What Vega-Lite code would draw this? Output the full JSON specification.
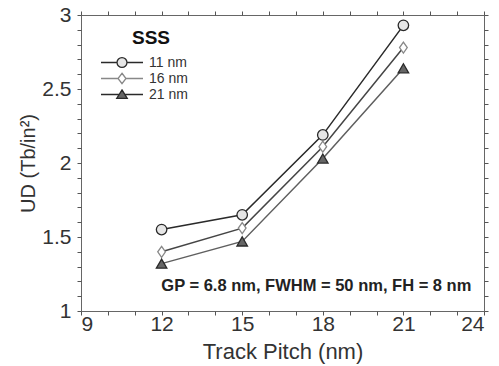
{
  "$schema": "https://vega.github.io/schema/vega-lite/v6.json",
  "width": 403,
  "height": 296,
  "autosize": {"type": "none"},
  "padding": {"left": 81, "top": 15, "right": 15, "bottom": 55},
  "background": "white",
  "config": {"view": {"stroke": "#666", "strokeWidth": 1}, "font": "Liberation Sans", "axis": {"grid": false, "tickColor": "#555", "domainColor": "#666", "tickWidth": 1}},
  "resolve": {"axis": {"x": "independent", "y": "independent"}},
  "datasets": {
    "ud": [
      {"series": "11 nm", "tp": 12, "ud": 1.55},
      {"series": "11 nm", "tp": 15, "ud": 1.65},
      {"series": "11 nm", "tp": 18, "ud": 2.19},
      {"series": "11 nm", "tp": 21, "ud": 2.93},
      {"series": "16 nm", "tp": 12, "ud": 1.40},
      {"series": "16 nm", "tp": 15, "ud": 1.56},
      {"series": "16 nm", "tp": 18, "ud": 2.11},
      {"series": "16 nm", "tp": 21, "ud": 2.78},
      {"series": "21 nm", "tp": 12, "ud": 1.32},
      {"series": "21 nm", "tp": 15, "ud": 1.47},
      {"series": "21 nm", "tp": 18, "ud": 2.03},
      {"series": "21 nm", "tp": 21, "ud": 2.64}
    ]
  },
  "data": {"name": "ud"},
  "layer": [
    {
      "mark": {"type": "line", "strokeWidth": 1.5, "color": "#2a2a2a"},
      "encoding": {
        "x": {
          "field": "tp", "type": "quantitative",
          "scale": {"domain": [9, 24], "nice": false, "zero": false},
          "axis": {
            "orient": "bottom",
            "title": "Track Pitch (nm)",
            "values": [9,10,11,12,13,14,15,16,17,18,19,20,21,22,23,24],
            "format": "d",
            "labelExpr": "datum.value % 3 === 0 ? datum.label : ''",
            "domain": false, "ticks": true, "tickSize": 4,
            "labelFontSize": 21, "labelColor": "#333", "labelPadding": -2, "labelFont": "Liberation Sans",
            "titleFontSize": 22, "titleFontWeight": "normal", "titleColor": "#333", "titlePadding": 7, "titleFont": "Liberation Sans"
          }
        },
        "y": {
          "field": "ud", "type": "quantitative",
          "scale": {"domain": [1, 3], "nice": false, "zero": false},
          "axis": {
            "orient": "left",
            "title": "UD (Tb/in²)",
            "values": [1,1.1,1.2,1.3,1.4,1.5,1.6,1.7,1.8,1.9,2,2.1,2.2,2.3,2.4,2.5,2.6,2.7,2.8,2.9,3],
            "format": ".1~f",
            "labelExpr": "abs(datum.value*2 - round(datum.value*2)) < 0.01 ? datum.label : ''",
            "domain": false, "ticks": true, "tickSize": 4,
            "labelFontSize": 21, "labelColor": "#333", "labelPadding": 6, "labelFont": "Liberation Sans",
            "titleFontSize": 20, "titleFontWeight": "normal", "titleColor": "#333", "titlePadding": 3, "titleFont": "Liberation Sans"
          }
        },
        "detail": {"field": "series"},
        "strokeOpacity": {"field": "series", "type": "nominal", "scale": {"domain": ["11 nm", "16 nm", "21 nm"], "range": [1, 0.75, 1]}, "legend": null}
      }
    },
    {
      "transform": [{"filter": "datum.series === '11 nm'"}],
      "mark": {"type": "point", "shape": "circle", "filled": true, "fill": "#e6e6e6", "stroke": "#2a2a2a", "strokeWidth": 1.3, "size": 110, "opacity": 1},
      "encoding": {
        "x": {"field": "tp", "type": "quantitative", "axis": {
          "orient": "top", "title": null, "labels": false, "domain": false, "ticks": true, "tickSize": 4,
          "values": [9,10,11,12,13,14,15,16,17,18,19,20,21,22,23,24]
        }},
        "y": {"field": "ud", "type": "quantitative", "axis": {
          "orient": "right", "title": null, "labels": false, "domain": false, "ticks": true, "tickSize": 4,
          "values": [1,1.1,1.2,1.3,1.4,1.5,1.6,1.7,1.8,1.9,2,2.1,2.2,2.3,2.4,2.5,2.6,2.7,2.8,2.9,3]
        }}
      }
    },
    {
      "transform": [{"filter": "datum.series === '16 nm'"}],
      "mark": {"type": "point", "shape": "M0,-1L0.7,0L0,1L-0.7,0Z", "filled": true, "fill": "#ffffff", "stroke": "#888888", "strokeWidth": 1.3, "size": 121, "opacity": 1},
      "encoding": {
        "x": {"field": "tp", "type": "quantitative", "axis": null},
        "y": {"field": "ud", "type": "quantitative", "axis": null}
      }
    },
    {
      "transform": [{"filter": "datum.series === '21 nm'"}],
      "mark": {"type": "point", "shape": "triangle-up", "filled": true, "fill": "#666666", "stroke": "#2a2a2a", "strokeWidth": 1.3, "size": 110, "opacity": 1},
      "encoding": {
        "x": {"field": "tp", "type": "quantitative", "axis": null},
        "y": {"field": "ud", "type": "quantitative", "axis": null}
      }
    },
    {
      "mark": {"type": "point", "filled": true, "strokeWidth": 1.3, "opacity": 0, "size": 196},
      "encoding": {
        "x": {"field": "tp", "type": "quantitative", "axis": null},
        "y": {"field": "ud", "type": "quantitative", "axis": null},
        "shape": {
          "field": "series", "type": "nominal",
          "scale": {"domain": ["11 nm", "16 nm", "21 nm"], "range": [
            "M-3,0H-0.71M0.71,0H3M0.71,0A0.71,0.71 0 1,1 -0.71,0A0.71,0.71 0 1,1 0.71,0Z",
            "M-3,0H-0.57M0.57,0H3M0,-0.75L0.57,0L0,0.75L-0.57,0Z",
            "M-3,0H-0.41M0.41,0H3M0,-0.65L0.75,0.55L-0.75,0.55Z"
          ]},
          "legend": {
            "orient": "none", "legendX": 33, "legendY": 13.5,
            "title": "SSS", "titleFontSize": 19, "titleFontWeight": "bold", "titleColor": "#111", "titleFont": "Liberation Sans",
            "titlePadding": 7, "titleAnchor": "middle",
            "labelFontSize": 14, "labelFont": "Liberation Sans", "labelColor": "#333", "labelOffset": 19,
            "symbolSize": 196, "rowPadding": -1.5, "symbolOpacity": 1, "symbolStrokeWidth": 1.3
          }
        },
        "fill": {"field": "series", "type": "nominal", "scale": {"domain": ["11 nm", "16 nm", "21 nm"], "range": ["#e6e6e6", "#ffffff", "#666666"]}, "legend": null},
        "stroke": {"field": "series", "type": "nominal", "scale": {"domain": ["11 nm", "16 nm", "21 nm"], "range": ["#2a2a2a", "#888888", "#2a2a2a"]}, "legend": null}
      }
    },
    {
      "data": {"values": [{"tx": 23.53, "ty": 1.17, "label": "GP = 6.8 nm, FWHM = 50 nm, FH = 8 nm"}]},
      "mark": {"type": "text", "align": "right", "baseline": "middle", "fontSize": 16.5, "fontWeight": "bold", "font": "Liberation Sans", "color": "#222"},
      "encoding": {
        "x": {"field": "tx", "type": "quantitative", "axis": null},
        "y": {"field": "ty", "type": "quantitative", "axis": null},
        "text": {"field": "label"}
      }
    }
  ]
}
